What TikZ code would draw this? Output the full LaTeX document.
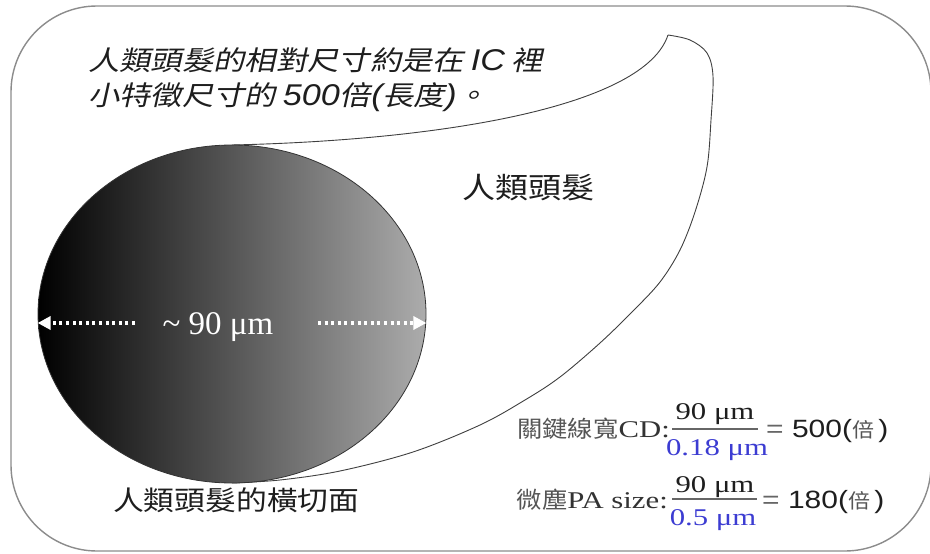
\documentclass[tikz,border=0pt]{standalone}
\usepackage{fontspec}
\setmainfont{Liberation Serif}
\newfontfamily\cjk[FakeStretch=1.14]{Noto Sans CJK TC}
\newfontfamily\cjkit[FakeSlant=0.22,FakeStretch=1.16]{Noto Sans CJK TC}
\newfontfamily\arial[FakeStretch=1.14]{Liberation Sans}
\newfontfamily\fserif[FakeStretch=1.28]{Liberation Serif}
\newfontfamily\fcjk[FakeStretch=1.1]{Noto Sans CJK TC}
\newfontfamily\farial[FakeStretch=1.2]{Liberation Sans}
\usetikzlibrary{arrows.meta,shapes.geometric}
\definecolor{ink}{HTML}{1E1E1E}
\definecolor{frame}{HTML}{8C8C8C}
\definecolor{softink}{HTML}{555555}
\definecolor{denblue}{HTML}{3C3CD2}
\tikzset{
  txt/.style={inner sep=0pt, text=ink},
  outline/.style={draw=frame, line width=1.4pt},
  balloon/.style={draw=black!75, line width=0.9pt},
  dimarrow/.style={draw=white, line width=3.6pt, dash pattern=on 3pt off 3.6pt,
    -{Triangle[length=13pt,width=13pt]}},
  fracbar/.style={draw=black!60, line width=1.6pt},
  ftext/.style={txt, font=\fontsize{24}{26}\selectfont\fserif},
}
\begin{document}
\begin{tikzpicture}[x=1pt,y=-1pt]
\useasboundingbox (0,0) rectangle (930,554);
\fill[white] (0,0) rectangle (930,554);
% outer frame
\draw[outline, rounded corners=86pt] (11,6) rectangle (931,551);
% callout balloon
\draw[balloon] (232,145) .. controls (450,140) and (645,105) .. (668,35)
  plot[smooth, tension=0.55] coordinates {(668,35) (690,40) (707,53) (713,76) (711,120)
   (707,167) (695,212) (680,250) (660,282) (633,311) (600,343) (560,377) (525,400)
   (480,425) (413,452) (340,471) (280,480) (232,483)};
% hair cross-section
\node[ellipse, draw=black!80, line width=0.8pt, minimum width=388pt, minimum height=338pt,
  inner sep=0pt, left color=black, middle color={rgb,255:red,110;green,110;blue,110},
  right color={rgb,255:red,172;green,172;blue,172}] (hair) at (232,314) {};
% dimension
\node[txt, text=white, anchor=base, font=\fontsize{33}{36}\selectfont] (dim) at (218,334) {\char"7E\ 90 μm};
\coordinate (aL) at (135,323);
\coordinate (aR) at (318,323);
\draw[dimarrow] (aL) -- (hair.west |- aL);
\draw[dimarrow] (aR) -- (hair.east |- aR);
% texts
\node[txt, anchor=west, font=\fontsize{27}{30}\selectfont] (t1) at (88,60)
  {{\cjkit 人類頭髮的相對尺寸約是在} {\arial\itshape\fontsize{30}{30}\selectfont IC} {\cjkit 裡}};
\node[txt, anchor=west, font=\fontsize{27}{30}\selectfont] (t2) at (88,97)
  {{\cjkit 小特徵尺寸的} {\arial\itshape\fontsize{30}{30}\selectfont 500}{\cjkit 倍}{\arial\itshape\fontsize{30}{30}\selectfont(}{\cjkit 長度}{\arial\itshape\fontsize{30}{30}\selectfont)}{\cjkit 。}};
\node[txt, anchor=west, font=\fontsize{29}{32}\selectfont\cjk] (hairlab) at (462,188) {人類頭髮};
\node[txt, anchor=west, font=\fontsize{27}{30}\selectfont\cjk] (seclab) at (113,500) {人類頭髮的橫切面};
% formula 1
\node[ftext, anchor=base east, text=black!80] (lab1) at (670,437)
  {{\fcjk\fontsize{23}{24}\selectfont\color{softink}關鍵線寬}CD:};
\node[ftext, anchor=base] (num1) at (715,419) {90 μm};
\coordinate (b1l) at (672,429);
\coordinate (b1r) at (758,429);
\draw[fracbar] (b1l) -- (b1r);
\node[ftext, anchor=base, text=denblue] (den1) at (717,455) {0.18 μm};
\node[txt, anchor=base west, font=\fontsize{25}{26}\selectfont\farial] (res1) at (766,437)
  {{\color{black!60}=} 500({\fcjk\fontsize{20}{24}\selectfont\color{softink}倍}\,)};
% formula 2
\node[ftext, anchor=base east, text=black!80] (lab2) at (668,508)
  {{\fcjk\fontsize{23}{24}\selectfont\color{softink}微塵}PA size:};
\node[ftext, anchor=base] (num2) at (715,492) {90 μm};
\coordinate (b2l) at (672,499);
\coordinate (b2r) at (757,499);
\draw[fracbar] (b2l) -- (b2r);
\node[ftext, anchor=base, text=denblue] (den2) at (713,525) {0.5 μm};
\node[txt, anchor=base west, font=\fontsize{25}{26}\selectfont\farial] (res2) at (762,508)
  {{\color{black!60}=} 180({\fcjk\fontsize{20}{24}\selectfont\color{softink}倍}\,)};
\end{tikzpicture}
\end{document}
